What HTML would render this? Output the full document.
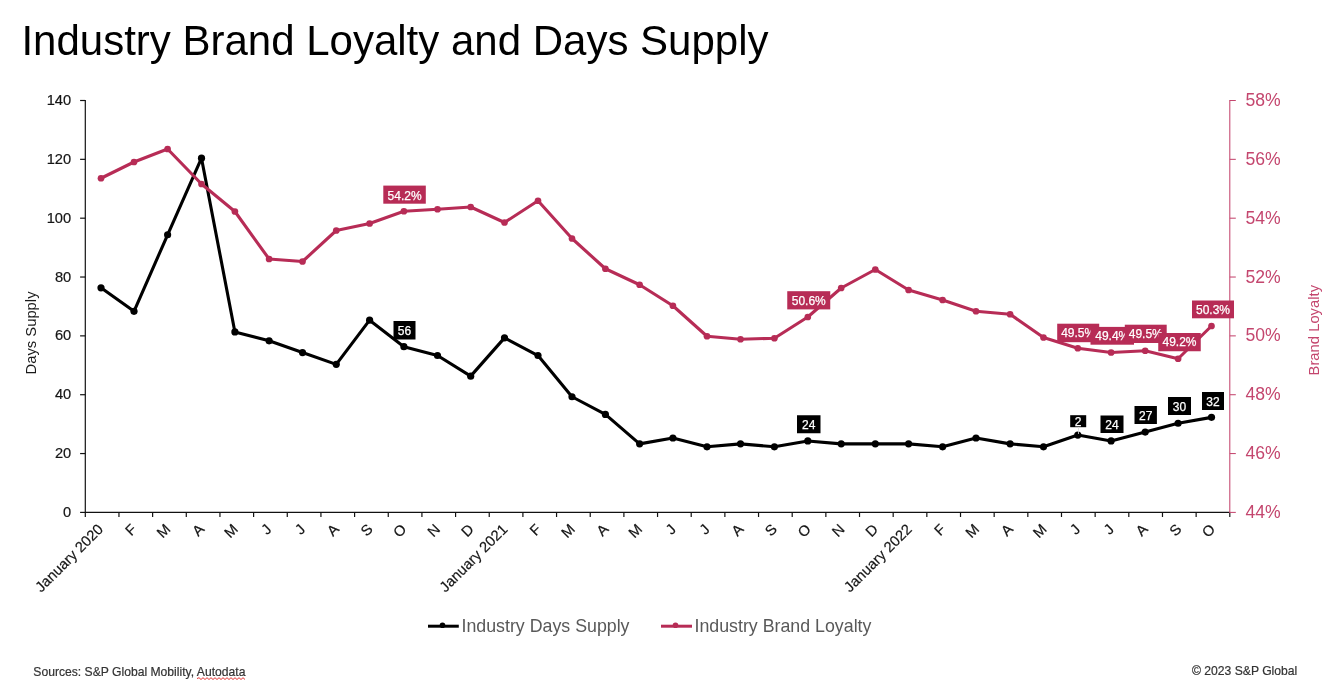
<!DOCTYPE html>
<html lang="en"><head><meta charset="utf-8"><title>Industry Brand Loyalty and Days Supply</title>
<style>html,body{margin:0;padding:0;background:#fff;}body{width:1342px;height:700px;overflow:hidden;}svg{display:block;}text{font-family:"Liberation Sans", Arial, sans-serif;}</style>
</head><body>
<svg width="1342" height="700" viewBox="0 0 1342 700">
<rect width="1342" height="700" fill="#ffffff"/>
<text x="21.4" y="54.8" font-size="42" fill="#000">Industry Brand Loyalty and Days Supply</text>
<g stroke="#111111" stroke-width="1.2" fill="none">
<line x1="85.30" y1="100.00" x2="85.30" y2="512.90"/>
<line x1="85.30" y1="512.40" x2="1229.80" y2="512.40"/>
<line x1="80.10" y1="512.40" x2="85.30" y2="512.40"/>
<line x1="80.10" y1="453.56" x2="85.30" y2="453.56"/>
<line x1="80.10" y1="394.71" x2="85.30" y2="394.71"/>
<line x1="80.10" y1="335.87" x2="85.30" y2="335.87"/>
<line x1="80.10" y1="277.03" x2="85.30" y2="277.03"/>
<line x1="80.10" y1="218.19" x2="85.30" y2="218.19"/>
<line x1="80.10" y1="159.34" x2="85.30" y2="159.34"/>
<line x1="80.10" y1="100.50" x2="85.30" y2="100.50"/>
<line x1="85.30" y1="512.40" x2="85.30" y2="517.00"/>
<line x1="118.96" y1="512.40" x2="118.96" y2="517.00"/>
<line x1="152.62" y1="512.40" x2="152.62" y2="517.00"/>
<line x1="186.29" y1="512.40" x2="186.29" y2="517.00"/>
<line x1="219.95" y1="512.40" x2="219.95" y2="517.00"/>
<line x1="253.61" y1="512.40" x2="253.61" y2="517.00"/>
<line x1="287.27" y1="512.40" x2="287.27" y2="517.00"/>
<line x1="320.93" y1="512.40" x2="320.93" y2="517.00"/>
<line x1="354.59" y1="512.40" x2="354.59" y2="517.00"/>
<line x1="388.26" y1="512.40" x2="388.26" y2="517.00"/>
<line x1="421.92" y1="512.40" x2="421.92" y2="517.00"/>
<line x1="455.58" y1="512.40" x2="455.58" y2="517.00"/>
<line x1="489.24" y1="512.40" x2="489.24" y2="517.00"/>
<line x1="522.90" y1="512.40" x2="522.90" y2="517.00"/>
<line x1="556.56" y1="512.40" x2="556.56" y2="517.00"/>
<line x1="590.23" y1="512.40" x2="590.23" y2="517.00"/>
<line x1="623.89" y1="512.40" x2="623.89" y2="517.00"/>
<line x1="657.55" y1="512.40" x2="657.55" y2="517.00"/>
<line x1="691.21" y1="512.40" x2="691.21" y2="517.00"/>
<line x1="724.87" y1="512.40" x2="724.87" y2="517.00"/>
<line x1="758.54" y1="512.40" x2="758.54" y2="517.00"/>
<line x1="792.20" y1="512.40" x2="792.20" y2="517.00"/>
<line x1="825.86" y1="512.40" x2="825.86" y2="517.00"/>
<line x1="859.52" y1="512.40" x2="859.52" y2="517.00"/>
<line x1="893.18" y1="512.40" x2="893.18" y2="517.00"/>
<line x1="926.84" y1="512.40" x2="926.84" y2="517.00"/>
<line x1="960.51" y1="512.40" x2="960.51" y2="517.00"/>
<line x1="994.17" y1="512.40" x2="994.17" y2="517.00"/>
<line x1="1027.83" y1="512.40" x2="1027.83" y2="517.00"/>
<line x1="1061.49" y1="512.40" x2="1061.49" y2="517.00"/>
<line x1="1095.15" y1="512.40" x2="1095.15" y2="517.00"/>
<line x1="1128.81" y1="512.40" x2="1128.81" y2="517.00"/>
<line x1="1162.48" y1="512.40" x2="1162.48" y2="517.00"/>
<line x1="1196.14" y1="512.40" x2="1196.14" y2="517.00"/>
<line x1="1229.80" y1="512.40" x2="1229.80" y2="517.00"/>
</g>
<g font-size="14.67" fill="#151515" stroke="#151515" stroke-width="0.2" text-anchor="end">
<text x="71.2" y="516.90">0</text>
<text x="71.2" y="458.06">20</text>
<text x="71.2" y="399.21">40</text>
<text x="71.2" y="340.37">60</text>
<text x="71.2" y="281.53">80</text>
<text x="71.2" y="222.69">100</text>
<text x="71.2" y="163.84">120</text>
<text x="71.2" y="105.00">140</text>
</g>
<g stroke="#C4466E" stroke-width="1.05" fill="none">
<line x1="1229.80" y1="100.00" x2="1229.80" y2="512.90"/>
<line x1="1229.80" y1="512.40" x2="1235.80" y2="512.40"/>
<line x1="1229.80" y1="453.56" x2="1235.80" y2="453.56"/>
<line x1="1229.80" y1="394.71" x2="1235.80" y2="394.71"/>
<line x1="1229.80" y1="335.87" x2="1235.80" y2="335.87"/>
<line x1="1229.80" y1="277.03" x2="1235.80" y2="277.03"/>
<line x1="1229.80" y1="218.19" x2="1235.80" y2="218.19"/>
<line x1="1229.80" y1="159.34" x2="1235.80" y2="159.34"/>
<line x1="1229.80" y1="100.50" x2="1235.80" y2="100.50"/>
</g>
<g font-size="17.6" fill="#C4466E">
<text x="1245.5" y="518.00">44%</text>
<text x="1245.5" y="459.16">46%</text>
<text x="1245.5" y="400.31">48%</text>
<text x="1245.5" y="341.47">50%</text>
<text x="1245.5" y="282.63">52%</text>
<text x="1245.5" y="223.79">54%</text>
<text x="1245.5" y="164.94">56%</text>
<text x="1245.5" y="106.10">58%</text>
</g>
<text transform="translate(36,333) rotate(-90)" text-anchor="middle" font-size="14.8" fill="#1a1a1a">Days Supply</text>
<text transform="translate(1318.8,330.2) rotate(-90)" text-anchor="middle" font-size="14.8" fill="#C4466E">Brand Loyalty</text>
<g font-size="14.67" fill="#151515" stroke="#151515" stroke-width="0.2" text-anchor="end">
<text transform="translate(104.00,530.2) rotate(-45)">January 2020</text>
<text transform="translate(137.70,530.2) rotate(-45)">F</text>
<text transform="translate(171.40,530.2) rotate(-45)">M</text>
<text transform="translate(205.10,530.2) rotate(-45)">A</text>
<text transform="translate(238.80,530.2) rotate(-45)">M</text>
<text transform="translate(272.50,530.2) rotate(-45)">J</text>
<text transform="translate(306.20,530.2) rotate(-45)">J</text>
<text transform="translate(339.90,530.2) rotate(-45)">A</text>
<text transform="translate(373.60,530.2) rotate(-45)">S</text>
<text transform="translate(407.30,530.2) rotate(-45)">O</text>
<text transform="translate(441.00,530.2) rotate(-45)">N</text>
<text transform="translate(474.70,530.2) rotate(-45)">D</text>
<text transform="translate(508.40,530.2) rotate(-45)">January 2021</text>
<text transform="translate(542.10,530.2) rotate(-45)">F</text>
<text transform="translate(575.80,530.2) rotate(-45)">M</text>
<text transform="translate(609.50,530.2) rotate(-45)">A</text>
<text transform="translate(643.20,530.2) rotate(-45)">M</text>
<text transform="translate(676.90,530.2) rotate(-45)">J</text>
<text transform="translate(710.60,530.2) rotate(-45)">J</text>
<text transform="translate(744.30,530.2) rotate(-45)">A</text>
<text transform="translate(778.00,530.2) rotate(-45)">S</text>
<text transform="translate(811.70,530.2) rotate(-45)">O</text>
<text transform="translate(845.40,530.2) rotate(-45)">N</text>
<text transform="translate(879.10,530.2) rotate(-45)">D</text>
<text transform="translate(912.80,530.2) rotate(-45)">January 2022</text>
<text transform="translate(946.50,530.2) rotate(-45)">F</text>
<text transform="translate(980.20,530.2) rotate(-45)">M</text>
<text transform="translate(1013.90,530.2) rotate(-45)">A</text>
<text transform="translate(1047.60,530.2) rotate(-45)">M</text>
<text transform="translate(1081.30,530.2) rotate(-45)">J</text>
<text transform="translate(1115.00,530.2) rotate(-45)">J</text>
<text transform="translate(1148.70,530.2) rotate(-45)">A</text>
<text transform="translate(1182.40,530.2) rotate(-45)">S</text>
<text transform="translate(1216.10,530.2) rotate(-45)">O</text>
</g>
<polyline points="101.00,287.78 134.00,311.34 167.60,234.77 201.50,158.20 234.90,331.96 269.10,340.79 302.50,352.57 336.25,364.35 369.60,320.18 403.90,346.68 437.50,355.52 470.70,376.13 504.50,337.85 538.00,355.52 572.00,396.75 605.40,414.42 639.60,443.87 672.90,437.98 707.00,446.81 740.50,443.87 774.40,446.81 807.80,440.92 841.20,443.87 875.30,443.87 908.60,443.87 942.60,446.81 976.00,437.98 1010.10,443.87 1043.50,446.81 1077.80,435.03 1111.10,440.92 1145.20,432.09 1178.10,423.25 1211.50,417.36" fill="none" stroke="#000" stroke-width="3.1" stroke-linejoin="round" stroke-linecap="round"/>
<g fill="#000">
<circle cx="101.00" cy="287.78" r="3.6"/>
<circle cx="134.00" cy="311.34" r="3.6"/>
<circle cx="167.60" cy="234.77" r="3.6"/>
<circle cx="201.50" cy="158.20" r="3.6"/>
<circle cx="234.90" cy="331.96" r="3.6"/>
<circle cx="269.10" cy="340.79" r="3.6"/>
<circle cx="302.50" cy="352.57" r="3.6"/>
<circle cx="336.25" cy="364.35" r="3.6"/>
<circle cx="369.60" cy="320.18" r="3.6"/>
<circle cx="403.90" cy="346.68" r="3.6"/>
<circle cx="437.50" cy="355.52" r="3.6"/>
<circle cx="470.70" cy="376.13" r="3.6"/>
<circle cx="504.50" cy="337.85" r="3.6"/>
<circle cx="538.00" cy="355.52" r="3.6"/>
<circle cx="572.00" cy="396.75" r="3.6"/>
<circle cx="605.40" cy="414.42" r="3.6"/>
<circle cx="639.60" cy="443.87" r="3.6"/>
<circle cx="672.90" cy="437.98" r="3.6"/>
<circle cx="707.00" cy="446.81" r="3.6"/>
<circle cx="740.50" cy="443.87" r="3.6"/>
<circle cx="774.40" cy="446.81" r="3.6"/>
<circle cx="807.80" cy="440.92" r="3.6"/>
<circle cx="841.20" cy="443.87" r="3.6"/>
<circle cx="875.30" cy="443.87" r="3.6"/>
<circle cx="908.60" cy="443.87" r="3.6"/>
<circle cx="942.60" cy="446.81" r="3.6"/>
<circle cx="976.00" cy="437.98" r="3.6"/>
<circle cx="1010.10" cy="443.87" r="3.6"/>
<circle cx="1043.50" cy="446.81" r="3.6"/>
<circle cx="1077.80" cy="435.03" r="3.6"/>
<circle cx="1111.10" cy="440.92" r="3.6"/>
<circle cx="1145.20" cy="432.09" r="3.6"/>
<circle cx="1178.10" cy="423.25" r="3.6"/>
<circle cx="1211.50" cy="417.36" r="3.6"/>
</g>
<polyline points="101.00,178.25 134.00,162.00 167.60,149.00 201.50,184.00 234.90,211.50 269.10,259.00 302.50,261.50 336.25,230.50 369.60,223.50 403.90,211.25 437.50,209.25 470.70,207.00 504.50,222.50 538.00,200.75 572.00,238.50 605.40,268.75 639.60,284.75 672.90,305.75 707.00,336.25 740.50,339.25 774.40,338.25 807.80,317.00 841.20,288.00 875.30,269.50 908.60,290.00 942.60,300.00 976.00,311.25 1010.10,314.25 1043.50,337.50 1077.80,348.25 1111.10,352.50 1145.20,350.75 1178.10,358.75 1211.50,326.00" fill="none" stroke="#B72C56" stroke-width="3.1" stroke-linejoin="round" stroke-linecap="round"/>
<g fill="#B72C56">
<circle cx="101.00" cy="178.25" r="3.35"/>
<circle cx="134.00" cy="162.00" r="3.35"/>
<circle cx="167.60" cy="149.00" r="3.35"/>
<circle cx="201.50" cy="184.00" r="3.35"/>
<circle cx="234.90" cy="211.50" r="3.35"/>
<circle cx="269.10" cy="259.00" r="3.35"/>
<circle cx="302.50" cy="261.50" r="3.35"/>
<circle cx="336.25" cy="230.50" r="3.35"/>
<circle cx="369.60" cy="223.50" r="3.35"/>
<circle cx="403.90" cy="211.25" r="3.35"/>
<circle cx="437.50" cy="209.25" r="3.35"/>
<circle cx="470.70" cy="207.00" r="3.35"/>
<circle cx="504.50" cy="222.50" r="3.35"/>
<circle cx="538.00" cy="200.75" r="3.35"/>
<circle cx="572.00" cy="238.50" r="3.35"/>
<circle cx="605.40" cy="268.75" r="3.35"/>
<circle cx="639.60" cy="284.75" r="3.35"/>
<circle cx="672.90" cy="305.75" r="3.35"/>
<circle cx="707.00" cy="336.25" r="3.35"/>
<circle cx="740.50" cy="339.25" r="3.35"/>
<circle cx="774.40" cy="338.25" r="3.35"/>
<circle cx="807.80" cy="317.00" r="3.35"/>
<circle cx="841.20" cy="288.00" r="3.35"/>
<circle cx="875.30" cy="269.50" r="3.35"/>
<circle cx="908.60" cy="290.00" r="3.35"/>
<circle cx="942.60" cy="300.00" r="3.35"/>
<circle cx="976.00" cy="311.25" r="3.35"/>
<circle cx="1010.10" cy="314.25" r="3.35"/>
<circle cx="1043.50" cy="337.50" r="3.35"/>
<circle cx="1077.80" cy="348.25" r="3.35"/>
<circle cx="1111.10" cy="352.50" r="3.35"/>
<circle cx="1145.20" cy="350.75" r="3.35"/>
<circle cx="1178.10" cy="358.75" r="3.35"/>
<circle cx="1211.50" cy="326.00" r="3.35"/>
</g>
<rect x="383.30" y="185.60" width="42.50" height="18.10" fill="#B72C56"/>
<text x="404.55" y="199.75" font-size="12" fill="#fff" stroke="#fff" stroke-width="0.25" text-anchor="middle">54.2%</text>
<rect x="787.25" y="291.20" width="43.00" height="18.20" fill="#B72C56"/>
<text x="808.75" y="305.00" font-size="12" fill="#fff" stroke="#fff" stroke-width="0.25" text-anchor="middle">50.6%</text>
<rect x="1057.20" y="323.70" width="42.00" height="18.50" fill="#B72C56"/>
<text x="1078.20" y="337.25" font-size="12" fill="#fff" stroke="#fff" stroke-width="0.25" text-anchor="middle">49.5%</text>
<rect x="1090.50" y="326.90" width="43.50" height="17.80" fill="#B72C56"/>
<text x="1112.25" y="340.10" font-size="12" fill="#fff" stroke="#fff" stroke-width="0.25" text-anchor="middle">49.4%</text>
<rect x="1124.80" y="324.70" width="41.90" height="18.30" fill="#B72C56"/>
<text x="1145.75" y="338.15" font-size="12" fill="#fff" stroke="#fff" stroke-width="0.25" text-anchor="middle">49.5%</text>
<rect x="1158.25" y="333.00" width="42.50" height="18.25" fill="#B72C56"/>
<text x="1179.50" y="346.43" font-size="12" fill="#fff" stroke="#fff" stroke-width="0.25" text-anchor="middle">49.2%</text>
<rect x="1192.00" y="300.50" width="42.00" height="17.80" fill="#B72C56"/>
<text x="1213.00" y="313.70" font-size="12" fill="#fff" stroke="#fff" stroke-width="0.25" text-anchor="middle">50.3%</text>
<rect x="393.50" y="321.00" width="22.00" height="18.50" fill="#000"/>
<text x="404.50" y="335.15" font-size="12" fill="#fff" stroke="#fff" stroke-width="0.25" text-anchor="middle">56</text>
<rect x="797.00" y="415.25" width="23.50" height="18.00" fill="#000"/>
<text x="808.75" y="429.15" font-size="12" fill="#fff" stroke="#fff" stroke-width="0.25" text-anchor="middle">24</text>
<rect x="1070.20" y="415.20" width="16.00" height="12.00" fill="#000"/>
<text x="1078.20" y="426.10" font-size="12" fill="#fff" stroke="#fff" stroke-width="0.25" text-anchor="middle">2</text>
<line x1="1078.5" y1="427" x2="1078.5" y2="434" stroke="#d9d9d9" stroke-width="0.8"/>
<rect x="1100.50" y="415.50" width="23.00" height="17.50" fill="#000"/>
<text x="1112.00" y="429.15" font-size="12" fill="#fff" stroke="#fff" stroke-width="0.25" text-anchor="middle">24</text>
<rect x="1134.50" y="406.00" width="22.40" height="18.00" fill="#000"/>
<text x="1145.70" y="419.90" font-size="12" fill="#fff" stroke="#fff" stroke-width="0.25" text-anchor="middle">27</text>
<rect x="1168.00" y="397.00" width="23.00" height="18.00" fill="#000"/>
<text x="1179.50" y="410.90" font-size="12" fill="#fff" stroke="#fff" stroke-width="0.25" text-anchor="middle">30</text>
<rect x="1202.00" y="392.00" width="22.00" height="18.00" fill="#000"/>
<text x="1213.00" y="405.90" font-size="12" fill="#fff" stroke="#fff" stroke-width="0.25" text-anchor="middle">32</text>
<line x1="428" y1="626.2" x2="458.8" y2="626.2" stroke="#000" stroke-width="3"/>
<circle cx="442.5" cy="625.2" r="2.8" fill="#000"/>
<text x="461.5" y="632" font-size="17.8" fill="#595959">Industry Days Supply</text>
<line x1="661" y1="626.2" x2="692" y2="626.2" stroke="#B72C56" stroke-width="3"/>
<circle cx="675.5" cy="625.2" r="2.8" fill="#B72C56"/>
<text x="694.5" y="632" font-size="17.8" fill="#595959">Industry Brand Loyalty</text>
<text x="33.3" y="676.3" font-size="12.15" fill="#333" stroke="#333" stroke-width="0.2">Sources: S&amp;P Global Mobility, Autodata</text>
<path d="M197,678.6 L199.0,677.7 L201.0,679.5 L203.0,677.7 L205.0,679.5 L207.0,677.7 L209.0,679.5 L211.0,677.7 L213.0,679.5 L215.0,677.7 L217.0,679.5 L219.0,677.7 L221.0,679.5 L223.0,677.7 L225.0,679.5 L227.0,677.7 L229.0,679.5 L231.0,677.7 L233.0,679.5 L235.0,677.7 L237.0,679.5 L239.0,677.7 L241.0,679.5 L243.0,677.7 L245.0,679.5" fill="none" stroke="#e02020" stroke-width="0.9"/>
<text x="1297.3" y="675" font-size="12.17" fill="#333" stroke="#333" stroke-width="0.2" text-anchor="end">© 2023 S&amp;P Global</text>
</svg>
</body></html>
